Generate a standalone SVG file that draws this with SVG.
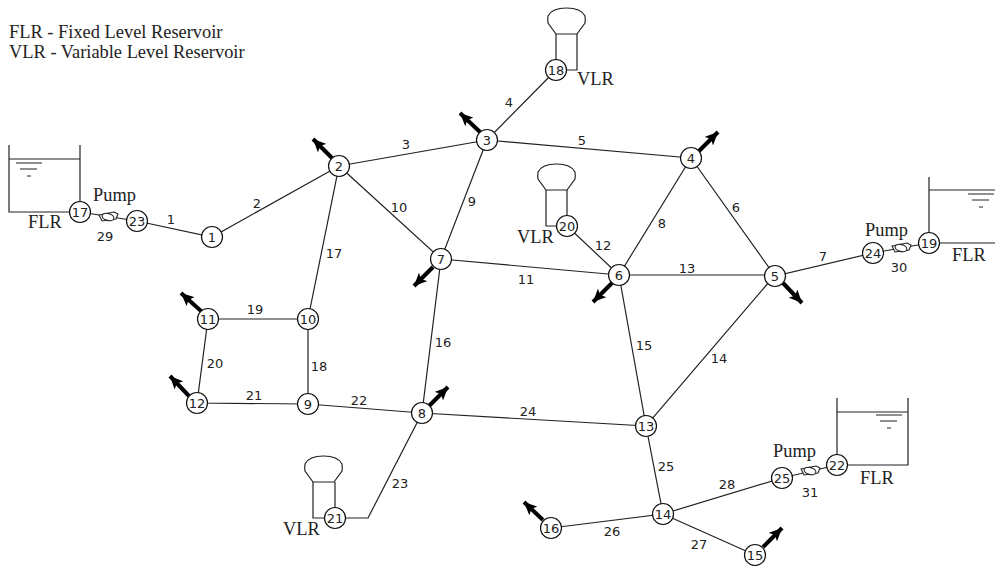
<svg xmlns="http://www.w3.org/2000/svg" width="995" height="566" viewBox="0 0 995 566">
<style>
.e{fill:none;stroke:#222;stroke-width:1.2}
.a{stroke:#000;stroke-width:4;marker-end:url(#h)}
.n circle{fill:#fff;stroke:#111;stroke-width:1.2}
text{fill:#222}
.c{font:13px "DejaVu Sans",sans-serif;text-anchor:middle}
.t{font:18.400px "Liberation Serif",serif}
</style>
<defs>
<marker id="h" markerUnits="userSpaceOnUse" markerWidth="14" markerHeight="12" refX="13" refY="6" orient="auto"><path d="M0 0L13 6L0 12L3 6Z" fill="#000"/></marker>
<path id="dome" d="M0 0L-8-11Q-8.500-14-8-18Q-4-26 10.500-26Q25-26 29-18Q29.500-14 29-11L21 0Z" fill="#fff" stroke="#222" stroke-width="1.2"/>
<g id="pump" fill="#fff" stroke="#222" stroke-width="1.1"><path d="M-9-2L6-5L10-3L8 2L-6 4Z"/><ellipse cx="0" cy="0" rx="6" ry="3.500" transform="rotate(15)"/></g>
<g id="lev" stroke="#222" stroke-width="1.2"><path d="M0 0H26M4 6H21M11 13H15"/></g>
</defs>
<g id="connectors">
<path class="e" d="M137 221L212 237L339 166L487 140L556 70M487 140L691 158L775 276L873 253M691 158L619 275L567 226M487 140L441 259L339 166L308 319V404M441 259L619 275H775L646 426L619 275M441 259L422 413L368 518H335M208 319H308M208 319L197 403L308 404L422 413L646 426L663 514L551 528M663 514L755 555M663 514L782 478"/>
<path class="e" d="M80 212L137 221M873 253L929 243M782 478L837 465"/>
<path class="a" d="M332 158L313 139"/><path class="a" d="M480 132L460 113"/><path class="a" d="M699 151L718 132"/><path class="a" d="M783 283L802 303"/><path class="a" d="M612 283L593 302"/><path class="a" d="M433 267L414 286"/><path class="a" d="M429 406L448 387"/><path class="a" d="M201 311L181 293"/><path class="a" d="M189 396L170 376"/><path class="a" d="M543 520L524 502"/><path class="a" d="M763 547L782 528"/>
</g>
<g id="res17"><path class="e" d="M9 145V212H80M80 145V212M9 159H80"/><use href="#lev" x="16" y="163"/></g>
<g id="res22"><path class="e" d="M837 398V465H908V398M837 412H908"/><use href="#lev" x="876" y="415"/></g>
<g id="res19"><path class="e" d="M929 177V243H995M929 190H995"/><use href="#lev" x="968" y="194"/></g>
<g id="vlr18"><use href="#dome" x="556" y="34"/><path class="e" d="M556 34V70M577 34V70H556"/></g>
<g id="vlr20"><use href="#dome" x="546" y="190"/><path class="e" d="M546 190V226H567M567 190V226"/></g>
<g id="vlr21"><use href="#dome" x="313" y="482"/><path class="e" d="M313 482V518H335M335 482V518"/></g>
<g id="pumps"><use href="#pump" x="108" y="217"/><use href="#pump" x="901" y="248"/><use href="#pump" x="810" y="471"/></g>
<g class="n">
<g id="n1"><circle cx="212" cy="237" r="10.500"/><text class="c" x="212" y="241.700">1</text></g>
<g id="n2"><circle cx="339" cy="166" r="10.500"/><text class="c" x="339" y="170.700">2</text></g>
<g id="n3"><circle cx="487" cy="140" r="10.500"/><text class="c" x="487" y="144.700">3</text></g>
<g id="n4"><circle cx="691" cy="158" r="10.500"/><text class="c" x="691" y="162.700">4</text></g>
<g id="n5"><circle cx="775" cy="276" r="10.500"/><text class="c" x="775" y="280.700">5</text></g>
<g id="n6"><circle cx="619" cy="275" r="10.500"/><text class="c" x="619" y="279.700">6</text></g>
<g id="n7"><circle cx="441" cy="259" r="10.500"/><text class="c" x="441" y="263.700">7</text></g>
<g id="n8"><circle cx="422" cy="413" r="10.500"/><text class="c" x="422" y="417.700">8</text></g>
<g id="n9"><circle cx="308" cy="404" r="10.500"/><text class="c" x="308" y="408.700">9</text></g>
<g id="n10"><circle cx="308" cy="319" r="10.500"/><text class="c" x="308" y="323.700">10</text></g>
<g id="n11"><circle cx="208" cy="319" r="10.500"/><text class="c" x="208" y="323.700">11</text></g>
<g id="n12"><circle cx="197" cy="403" r="10.500"/><text class="c" x="197" y="407.700">12</text></g>
<g id="n13"><circle cx="646" cy="426" r="10.500"/><text class="c" x="646" y="430.700">13</text></g>
<g id="n14"><circle cx="663" cy="514" r="10.500"/><text class="c" x="663" y="518.700">14</text></g>
<g id="n15"><circle cx="755" cy="555" r="10.500"/><text class="c" x="755" y="559.700">15</text></g>
<g id="n16"><circle cx="551" cy="528" r="10.500"/><text class="c" x="551" y="532.700">16</text></g>
<g id="n17"><circle cx="80" cy="212" r="10.500"/><text class="c" x="80" y="216.700">17</text></g>
<g id="n18"><circle cx="556" cy="70" r="10.500"/><text class="c" x="556" y="74.700">18</text></g>
<g id="n19"><circle cx="929" cy="243" r="10.500"/><text class="c" x="929" y="247.700">19</text></g>
<g id="n20"><circle cx="567" cy="226" r="10.500"/><text class="c" x="567" y="230.700">20</text></g>
<g id="n21"><circle cx="335" cy="518" r="10.500"/><text class="c" x="335" y="522.700">21</text></g>
<g id="n22"><circle cx="837" cy="465" r="10.500"/><text class="c" x="837" y="469.700">22</text></g>
<g id="n23"><circle cx="137" cy="221" r="10.500"/><text class="c" x="137" y="225.700">23</text></g>
<g id="n24"><circle cx="873" cy="253" r="10.500"/><text class="c" x="873" y="257.700">24</text></g>
<g id="n25"><circle cx="782" cy="478" r="10.500"/><text class="c" x="782" y="482.700">25</text></g>
</g>
<g id="edge-labels" class="c">
<text x="171" y="223.700">1</text><text x="257" y="207.700">2</text><text x="406" y="148.700">3</text><text x="509" y="106.700">4</text><text x="582" y="144.700">5</text><text x="736" y="211.700">6</text><text x="823" y="260.700">7</text><text x="662" y="227.700">8</text><text x="472" y="205.700">9</text><text x="399" y="211.700">10</text><text x="526" y="283.700">11</text><text x="603" y="249.700">12</text><text x="687" y="272.700">13</text><text x="719" y="362.700">14</text><text x="644" y="349.700">15</text><text x="443" y="346.700">16</text><text x="334" y="257.700">17</text><text x="319" y="370.700">18</text><text x="255" y="313.700">19</text><text x="215" y="367.700">20</text><text x="254" y="399.700">21</text><text x="359" y="404.700">22</text><text x="400" y="487.700">23</text><text x="528" y="415.700">24</text><text x="666" y="470.700">25</text><text x="612" y="535.700">26</text><text x="699" y="548.700">27</text><text x="727" y="488.700">28</text><text x="105" y="240.700">29</text><text x="899" y="271.700">30</text><text x="810" y="496.700">31</text>
</g>
<g id="text" class="t">
<text x="9" y="38">FLR - Fixed Level Reservoir</text><text x="9" y="58">VLR - Variable Level Reservoir</text>
<text x="93" y="201">Pump</text><text x="865" y="236">Pump</text><text x="773" y="457">Pump</text>
<text x="28" y="228">FLR</text><text x="952" y="261">FLR</text><text x="860" y="484">FLR</text>
<text x="577" y="85">VLR</text><text x="517" y="243">VLR</text><text x="283" y="535">VLR</text>
</g>
</svg>
